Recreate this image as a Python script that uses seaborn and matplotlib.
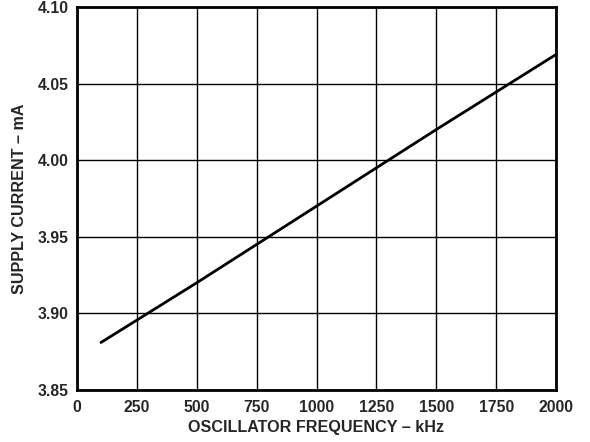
import numpy as np
import pandas as pd
import matplotlib

matplotlib.use("Agg")
import matplotlib.pyplot as plt
import seaborn as sns

# values
freq_khz = [100, 500, 1000, 1500, 2000]
supply_ma = [3.881, 3.920, 3.970, 4.020, 4.069]
x_ticks = [0, 250, 500, 750, 1000, 1250, 1500, 1750, 2000]
y_ticks = [3.85, 3.90, 3.95, 4.00, 4.05, 4.10]

sns.set_style("white")
plt.rcParams["font.family"] = ["Liberation Sans", "DejaVu Sans"]

df = pd.DataFrame({"freq": freq_khz, "current": supply_ma})

fig = plt.figure(figsize=(5.9, 4.42), dpi=100)
ax = fig.add_axes([77 / 590, 1 - 390 / 442, (556 - 77) / 590, (390 - 7) / 442])

sns.lineplot(data=df, x="freq", y="current", color="black", linewidth=2, ax=ax)

ax.set_xlim(0, 2000)
ax.set_ylim(3.85, 4.10)
ax.set_xticks(x_ticks)
ax.set_yticks(y_ticks)
ax.set_yticklabels([f"{v:.2f}" for v in y_ticks])
ax.grid(True, color="black", linewidth=1)
ax.tick_params(length=0, labelsize=11.3)
ax.tick_params(axis="x", pad=7)
ax.tick_params(axis="y", pad=6)
for lab in ax.get_xticklabels() + ax.get_yticklabels():
    lab.set_fontweight("bold")
for s in ax.spines.values():
    s.set_color("black")
    s.set_linewidth(2)

ax.set_xlabel("OSCILLATOR FREQUENCY – kHz", fontsize=11.6, fontweight="bold", labelpad=4)
ax.set_ylabel("SUPPLY CURRENT – mA", fontsize=11.6, fontweight="bold", labelpad=8)

fig.savefig("out.png", dpi=100)
plt.close(fig)
